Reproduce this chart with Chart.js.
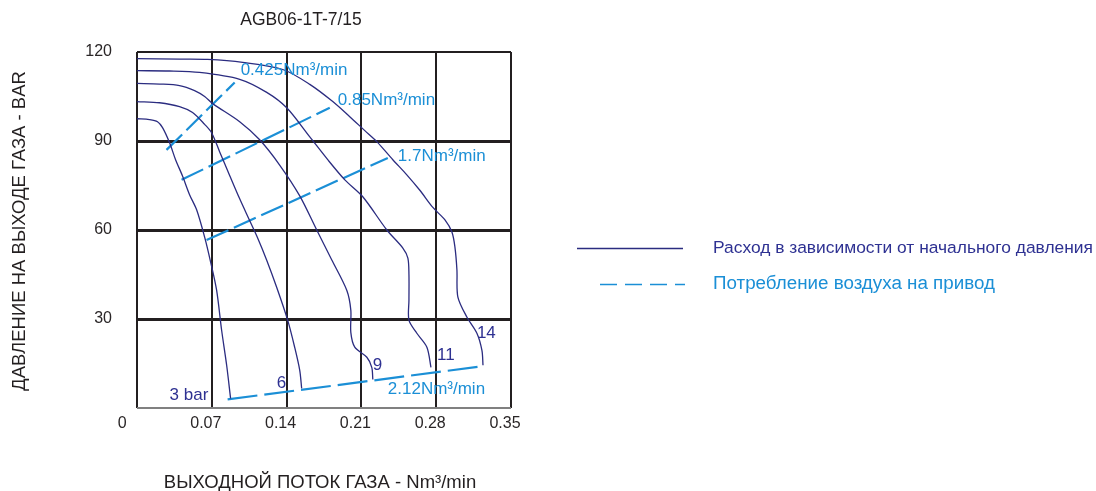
<!DOCTYPE html>
<html><head><meta charset="utf-8">
<script src="https://cdn.jsdelivr.net/npm/chart.js@4.4.1/dist/chart.umd.min.js"></script>
<style>html,body{margin:0;padding:0;background:#fff;}canvas{display:block;}</style>
</head><body>
<canvas id="c" width="1096" height="491"></canvas>
<script>
// ---- data ----
const chartTitle = 'AGB06-1T-7/15';
const xTitle = 'ВЫХОДНОЙ ПОТОК ГАЗА - Nm³/min';
const yTitle = 'ДАВЛЕНИЕ НА ВЫХОДЕ ГАЗА - BAR';
const legendLabels = ['Расход в зависимости от начального давления', 'Потребление воздуха на привод'];

const xTicks = [0, 0.07, 0.14, 0.21, 0.28, 0.35];
const yTicks = [0, 30, 60, 90, 120];

const curve3X = [0, 0.0117, 0.0192, 0.0239, 0.0305, 0.0361, 0.0426, 0.0492, 0.0558, 0.0633, 0.0689, 0.0745, 0.0792, 0.0839, 0.0876];
const curve3Y = [97.5, 97.2, 96.5, 94.5, 89.4, 83.7, 78.2, 71.9, 66.8, 57.6, 49.2, 39.7, 26.2, 14.4, 3.2];

const curve6X = [0, 0.0211, 0.0398, 0.0520, 0.0633, 0.0698, 0.0773, 0.0867, 0.0960, 0.1054, 0.1129, 0.1213, 0.1307, 0.1410, 0.1476, 0.1523, 0.1541];
const curve6Y = [103.3, 102.9, 101.6, 99.6, 95.6, 92.8, 86.4, 78.4, 70.6, 63.2, 57.3, 49.9, 40.7, 29.6, 20.4, 12.7, 6.6];

const curve9X = [0, 0.0211, 0.0398, 0.0539, 0.0633, 0.0708, 0.0961, 0.1148, 0.1335, 0.1523, 0.1682, 0.1823, 0.1963, 0.2001, 0.2001, 0.2038, 0.2151, 0.2197, 0.2207];
const curve9Y = [109.4, 109.2, 108.7, 107.0, 105.0, 102.6, 96.5, 90.4, 81.9, 71.5, 60.0, 49.9, 39.7, 33.0, 25.5, 20.5, 17.1, 13.7, 9.6];

const curve11X = [0, 0.0305, 0.0586, 0.0961, 0.1214, 0.1401, 0.1617, 0.1785, 0.1945, 0.2113, 0.2338, 0.2488, 0.2535, 0.2545, 0.2545, 0.2545, 0.2619, 0.2713, 0.2751];
const curve11Y = [113.7, 113.6, 113.1, 110.8, 106.4, 101.2, 91.4, 83.7, 76.9, 71.2, 60.0, 53.9, 50.5, 44.9, 36.4, 29.6, 25.2, 20.5, 13.7];

const curve14X = [0, 0.0398, 0.0661, 0.0989, 0.1364, 0.1617, 0.1832, 0.1991, 0.2132, 0.2244, 0.2394, 0.2525, 0.2647, 0.2769, 0.2882, 0.2947, 0.2975, 0.2994, 0.3003, 0.3088, 0.3181, 0.3228, 0.3238];
const curve14Y = [117.8, 117.6, 117.5, 116.5, 114.1, 109.1, 103.3, 98.2, 93.5, 89.8, 83.7, 78.6, 73.4, 67.6, 63.4, 59.3, 54.3, 46.5, 37.4, 30.6, 25.2, 19.4, 14.4];

const air0425X = [0.0276, 0.0914], air0425Y = [87.0, 109.7];
const air085X = [0.0417, 0.1804], air085Y = [76.9, 101.2];
const air17X = [0.0651, 0.2347], air17Y = [56.6, 84.3];
const air212X = [0.0848, 0.3238], air212Y = [2.9, 14.1];

// text annotations placed in data coordinates
const noteTexts = ['0.425Nm³/min', '0.85Nm³/min', '1.7Nm³/min', '2.12Nm³/min', '3 bar', '6', '9', '11', '14'];
const noteX = [0.097, 0.1879, 0.2441, 0.2347, 0.0305, 0.1307, 0.2207, 0.2807, 0.3181];
const noteY = [113.7, 103.6, 84.7, 6.25, 4.2, 8.3, 14.4, 17.7, 25.2];
const noteIsAir = [true, true, true, true, false, false, false, false, false];

// ---- styles ----
const NAVY = '#2b2c80';
const NAVY_TEXT = '#2e3192';
const BLUE = '#1b8fd6';
const INK = '#231f20';
const FONT = '"Liberation Sans", Arial, sans-serif';

const zip = (xs, ys) => xs.map((v, i) => ({x: v, y: ys[i]}));
const curve = (label, xs, ys) => ({label, data: zip(xs, ys), showLine: true, borderColor: NAVY, borderWidth: 1.3, pointRadius: 0, tension: 0.3, fill: false});
const air = (label, xs, ys, dash) => ({label, data: zip(xs, ys), showLine: true, borderColor: BLUE, borderWidth: 2.2, borderDash: dash, pointRadius: 0, tension: 0, fill: false});

const overlay = {
  id: 'overlay',
  afterDraw(chart) {
    const {ctx, scales: {x, y}} = chart;
    ctx.save();
    ctx.textBaseline = 'middle';
    ctx.textAlign = 'left';
    ctx.font = '17px ' + FONT;
    noteTexts.forEach((t, i) => {
      ctx.fillStyle = noteIsAir[i] ? BLUE : NAVY_TEXT;
      ctx.fillText(t, x.getPixelForValue(noteX[i]), y.getPixelForValue(noteY[i]));
    });
    ctx.fillStyle = INK;
    ctx.textAlign = 'center';
    ctx.font = '17.5px ' + FONT;
    ctx.fillText(chartTitle, 301, 20);
    ctx.font = '18.5px ' + FONT;
    ctx.fillText(xTitle, 320, 483);
    ctx.save();
    ctx.translate(20, 231);
    ctx.rotate(-Math.PI / 2);
    ctx.fillText(yTitle, 0, 0);
    ctx.restore();
    // legend
    ctx.lineWidth = 1.3;
    ctx.strokeStyle = NAVY;
    ctx.beginPath(); ctx.moveTo(577, 248.5); ctx.lineTo(683, 248.5); ctx.stroke();
    ctx.lineWidth = 1.6;
    ctx.strokeStyle = BLUE;
    ctx.setLineDash([17, 8]);
    ctx.beginPath(); ctx.moveTo(600, 284.5); ctx.lineTo(685, 284.5); ctx.stroke();
    ctx.setLineDash([]);
    ctx.textAlign = 'left';
    ctx.font = '17.4px ' + FONT;
    ctx.fillStyle = NAVY_TEXT;
    ctx.fillText(legendLabels[0], 713, 248);
    ctx.font = '18.8px ' + FONT;
    ctx.fillStyle = BLUE;
    ctx.fillText(legendLabels[1], 713, 284);
    ctx.restore();
  }
};

new Chart(document.getElementById('c'), {
  type: 'scatter',
  data: {
    datasets: [
      curve('3 bar', curve3X, curve3Y),
      curve('6 bar', curve6X, curve6Y),
      curve('9 bar', curve9X, curve9Y),
      curve('11 bar', curve11X, curve11Y),
      curve('14 bar', curve14X, curve14Y),
      air('0.425Nm³/min', air0425X, air0425Y, [22, 6]),
      air('0.85Nm³/min', air085X, air085Y, [24, 6]),
      air('1.7Nm³/min', air17X, air17Y, [24, 6]),
      air('2.12Nm³/min', air212X, air212Y, [30, 7])
    ]
  },
  options: {
    responsive: false,
    animation: false,
    layout: {padding: {left: 0, right: 585, top: 52, bottom: 0}},
    plugins: {legend: {display: false}, tooltip: {enabled: false}, title: {display: false}},
    scales: {
      x: {
        type: 'linear', min: 0, max: 0.35,
        afterBuildTicks: s => { s.ticks = xTicks.map(v => ({value: v})); },
        afterFit: s => { s.height = 83; },
        border: {display: false},
        grid: {color: INK, lineWidth: 2, drawTicks: false},
        ticks: {
          padding: 6, color: '#2a2627', font: {size: 16, family: FONT}, labelOffset: -6, maxRotation: 0, autoSkip: false,
          callback: v => v === 0 ? '0    ' : v.toFixed(2)
        }
      },
      y: {
        type: 'linear', min: 0, max: 120,
        afterBuildTicks: s => { s.ticks = yTicks.map(v => ({value: v})); },
        afterFit: s => { s.width = 137; },
        border: {display: false},
        grid: {
          color: c => (c.tick && c.tick.value === 0) ? '#808080' : INK,
          lineWidth: c => (c.tick && (c.tick.value === 0 || c.tick.value === 120)) ? 2 : 3,
          drawTicks: false
        },
        ticks: {
          padding: 25, color: '#2a2627', font: {size: 16, family: FONT},
          callback: v => v === 0 ? '' : String(v)
        }
      }
    }
  },
  plugins: [overlay]
});
</script>
</body></html>
